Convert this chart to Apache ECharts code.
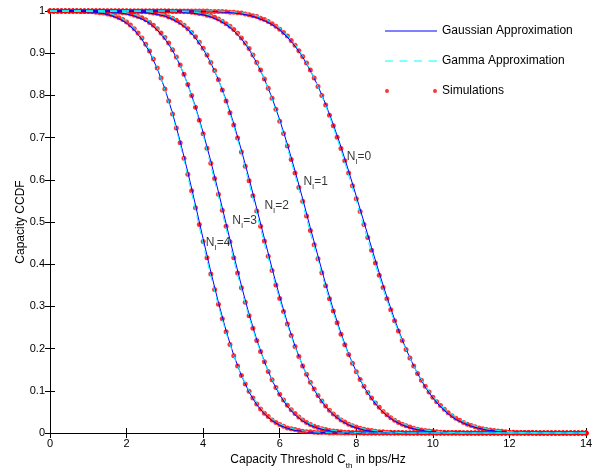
<!DOCTYPE html>
<html>
<head>
<meta charset="utf-8">
<script src="https://cdn.jsdelivr.net/npm/echarts@6/dist/echarts.min.js"></script>
<style>
html, body { margin: 0; padding: 0; background: #fff; }
#container { width: 599px; height: 470px; }
</style>
</head>
<body>
<div id="container"></div>
<script>
// Capacity CCDF for N_I = 0..4 interferers
var FONT = '"Liberation Sans", Helvetica, Arial, sans-serif';

// simulation points, one every 0.1 bps/Hz from 0 to 14
var simStep = 0.1;
var simNI0 = [
  1,1,1,1,1,1,1,1,1,1,
  1,1,1,1,1,1,1,1,1,1,
  1,1,1,1,1,1,1,1,1,1,
  1,1,1,1,1,1,1,1,1,1,
  1,1,.999,.999,.999,.999,.998,.997,.997,.996,
  .995,.993,.991,.989,.987,.983,.980,.975,.970,.964,
  .957,.949,.941,.930,.919,.906,.892,.877,.860,.841,
  .821,.800,.777,.753,.728,.701,.674,.645,.616,.586,
  .555,.525,.494,.463,.433,.403,.374,.345,.318,.292,
  .266,.242,.219,.198,.178,.159,.141,.125,.111,.097,
  .085,.074,.065,.056,.048,.041,.035,.030,.025,.021,
  .018,.015,.012,.010,.008,.007,.006,.005,.004,.003,
  .002,.002,.001,.001,.001,.001,.001,0,0,0,
  0,0,0,0,0,0,0,0,0,0,
  0
];
var simNI1 = [
  1,1,1,1,1,1,1,1,1,1,
  1,1,1,1,1,1,1,1,1,1,
  1,1,1,1,1,1,1,1,1,1,
  1,1,.999,.999,.999,.998,.998,.997,.996,.994,
  .993,.990,.988,.985,.981,.976,.970,.964,.956,.947,
  .936,.924,.911,.896,.878,.860,.839,.817,.793,.767,
  .739,.710,.680,.648,.616,.582,.549,.514,.480,.446,
  .413,.380,.349,.318,.289,.261,.234,.209,.186,.165,
  .145,.127,.111,.096,.083,.071,.061,.051,.043,.036,
  .030,.025,.021,.017,.014,.011,.009,.007,.006,.005,
  .004,.003,.002,.002,.001,.001,.001,.001,0,0,
  0,0,0,0,0,0,0,0,0,0,
  0,0,0,0,0,0,0,0,0,0,
  0,0,0,0,0,0,0,0,0,0,
  0
];
var simNI2 = [
  1,1,1,1,1,1,1,1,1,1,
  1,1,1,1,1,1,1,1,1,1,
  1,.999,.999,.999,.998,.998,.997,.995,.994,.992,
  .990,.986,.983,.978,.973,.966,.958,.949,.939,.926,
  .912,.896,.878,.859,.837,.813,.787,.759,.730,.699,
  .666,.632,.598,.562,.526,.490,.455,.419,.385,.351,
  .319,.288,.258,.231,.205,.181,.159,.139,.120,.104,
  .089,.076,.064,.054,.045,.038,.031,.026,.021,.017,
  .014,.011,.009,.007,.006,.004,.003,.003,.002,.002,
  .001,.001,.001,0,0,0,0,0,0,0,
  0,0,0,0,0,0,0,0,0,0,
  0,0,0,0,0,0,0,0,0,0,
  0,0,0,0,0,0,0,0,0,0,
  0,0,0,0,0,0,0,0,0,0,
  0
];
var simNI3 = [
  1,1,1,1,1,1,1,1,1,1,
  1,1,1,1,.999,.999,.999,.998,.997,.996,
  .995,.993,.990,.987,.984,.979,.973,.966,.958,.948,
  .937,.924,.908,.891,.872,.850,.826,.800,.772,.741,
  .709,.675,.639,.603,.566,.528,.490,.453,.415,.379,
  .344,.310,.278,.248,.219,.193,.169,.146,.126,.108,
  .092,.078,.066,.055,.046,.038,.031,.025,.020,.016,
  .013,.010,.008,.006,.005,.004,.003,.002,.002,.001,
  .001,.001,0,0,0,0,0,0,0,0,
  0,0,0,0,0,0,0,0,0,0,
  0,0,0,0,0,0,0,0,0,0,
  0,0,0,0,0,0,0,0,0,0,
  0,0,0,0,0,0,0,0,0,0,
  0,0,0,0,0,0,0,0,0,0,
  0
];
var simNI4 = [
  1,1,1,1,1,1,1,1,.999,.999,
  .999,.998,.997,.996,.995,.993,.991,.988,.984,.980,
  .974,.967,.958,.948,.936,.921,.905,.886,.865,.841,
  .815,.787,.756,.723,.688,.651,.613,.574,.534,.494,
  .454,.415,.377,.340,.305,.271,.240,.210,.183,.159,
  .136,.116,.099,.083,.069,.057,.047,.039,.031,.025,
  .020,.016,.012,.010,.008,.006,.004,.003,.003,.002,
  .001,.001,.001,0,0,0,0,0,0,0,
  0,0,0,0,0,0,0,0,0,0,
  0,0,0,0,0,0,0,0,0,0,
  0,0,0,0,0,0,0,0,0,0,
  0,0,0,0,0,0,0,0,0,0,
  0,0,0,0,0,0,0,0,0,0,
  0,0,0,0,0,0,0,0,0,0,
  0
];

// analytic approximations, one point every 0.2 bps/Hz
var lineStep = 0.2;
var gaussNI0 = [
  1,1,1,1,1, 1,1,1,1,1, 1,1,1,1,1, 1,1,1,1,1,
  .999,.999,.998,.997,.996, .993,.990,.984,.977,.968,
  .955,.938,.917,.891,.859, .822,.779,.731,.678,.621,
  .561,.500,.439,.379,.322, .269,.221,.178,.141,.109,
  .083,.062,.045,.032,.023, .016,.011,.007,.005,.003,
  .002,.001,.001,0,0, 0,0,0,0,0, 0
];
var gammaNI0 = [
  1,1,1,1,1, 1,1,1,1,1, 1,1,1,1,1, 1,1,1,1,1,
  1,1,1,.999,.998, .996,.993,.989,.982,.973,
  .960,.943,.921,.894,.860, .821,.776,.725,.670,.611,
  .550,.488,.427,.369,.314, .263,.218,.177,.142,.112,
  .087,.067,.051,.038,.028, .020,.014,.010,.007,.005,
  .003,.002,.001,.001,0, 0,0,0,0,0, 0
];
var gaussNI1 = [
  1,1,1,1,1, 1,1,1,1,1, 1,1,1,1,1,
  .999,.999,.998,.996,.994, .991,.986,.978,.968,.953,
  .934,.909,.877,.839,.794, .742,.684,.621,.555,.486,
  .419,.353,.292,.236,.187, .145,.109,.081,.058,.041,
  .028,.019,.012,.008,.005, .003,.002,.001,.001,0,
  0,0,0,0,0, 0,0,0,0,0, 0,0,0,0,0, 0
];
var gammaNI1 = [
  1,1,1,1,1, 1,1,1,1,1, 1,1,1,1,1,
  1,1,.999,.998,.997, .994,.990,.983,.973,.958,
  .939,.913,.880,.839,.791, .737,.676,.611,.543,.474,
  .408,.344,.285,.232,.185, .145,.112,.085,.063,.046,
  .033,.023,.016,.011,.007, .005,.003,.002,.001,0,
  0,0,0,0,0, 0,0,0,0,0, 0,0,0,0,0, 0
];
var gaussNI2 = [
  1,1,1,1,1, 1,1,1,1,1,
  .999,.999,.997,.995,.992, .988,.980,.970,.956,.936,
  .910,.877,.837,.789,.733, .670,.603,.532,.461,.390,
  .323,.261,.206,.159,.119, .087,.062,.043,.029,.019,
  .012,.007,.004,.003,.001, .001,0,0,0,0,
  0,0,0,0,0, 0,0,0,0,0, 0,0,0,0,0, 0,0,0,0,0, 0
];
var gammaNI2 = [
  1,1,1,1,1, 1,1,1,1,1,
  1,1,.999,.998,.995, .992,.985,.975,.961,.941,
  .914,.880,.837,.786,.727, .662,.592,.520,.449,.380,
  .315,.255,.203,.159,.121, .091,.067,.048,.034,.023,
  .016,.010,.007,.004,.003, .002,.001,0,0,0,
  0,0,0,0,0, 0,0,0,0,0, 0,0,0,0,0, 0,0,0,0,0, 0
];
var gaussNI3 = [
  1,1,1,1,1,
  1,.999,.999,.998,.996, .993,.988,.981,.971,.955,
  .934,.907,.871,.826,.773, .712,.644,.571,.496,.421,
  .349,.281,.221,.169,.125, .090,.063,.043,.028,.018,
  .011,.007,.004,.002,.001, .001,0,0,0,0,
  0,0,0,0,0, 0,0,0,0,0, 0,0,0,0,0, 0,0,0,0,0, 0,0,0,0,0, 0
];
var gammaNI3 = [
  1,1,1,1,1,
  1,1,1,.999,.998, .996,.992,.986,.976,.961,
  .939,.910,.872,.825,.770, .706,.634,.560,.484,.410,
  .339,.275,.217,.168,.127, .094,.068,.048,.033,.022,
  .015,.009,.006,.003,.002, .001,0,0,0,0,
  0,0,0,0,0, 0,0,0,0,0, 0,0,0,0,0, 0,0,0,0,0, 0,0,0,0,0, 0
];
var gaussNI4 = [
  1,1,1,1,.999,
  .998,.997,.994,.989,.982, .971,.955,.933,.903,.864,
  .816,.758,.691,.618,.540, .460,.382,.309,.242,.184,
  .136,.097,.067,.045,.029, .018,.011,.006,.004,.002,
  .001,.001,0,0,0, 0,0,0,0,0,
  0,0,0,0,0, 0,0,0,0,0, 0,0,0,0,0, 0,0,0,0,0, 0,0,0,0,0, 0
];
var gammaNI4 = [
  1,1,1,1,1,
  .999,.998,.997,.993,.987, .976,.961,.938,.907,.866,
  .814,.753,.684,.608,.528, .448,.372,.301,.237,.183,
  .137,.100,.072,.050,.034, .022,.014,.009,.005,.003,
  .002,.001,0,0,0, 0,0,0,0,0,
  0,0,0,0,0, 0,0,0,0,0, 0,0,0,0,0, 0,0,0,0,0, 0,0,0,0,0, 0
];

// curve labels N_I = k
var labelText = ['0', '1', '2', '3', '4'];
var labelX = [7.75, 6.62, 5.6, 4.76, 4.07];
var labelY = [0.654, 0.595, 0.538, 0.502, 0.45];

var gaussCurves = [gaussNI0, gaussNI1, gaussNI2, gaussNI3, gaussNI4];
var gammaCurves = [gammaNI0, gammaNI1, gammaNI2, gammaNI3, gammaNI4];
var simCurves = [simNI0, simNI1, simNI2, simNI3, simNI4];

function toPairs(values, step) {
    var pts = [];
    for (var i = 0; i < values.length; i++) {
        pts.push([+(i * step).toFixed(1), values[i]]);
    }
    return pts;
}

var series = [];
//Gaussian
for (var i = 0; i < gaussCurves.length; i++) {
    series.push({
        name: 'Gaussian Approximation', type: 'line', symbol: 'none', clip: false,
        data: toPairs(gaussCurves[i], lineStep),
        itemStyle: {color: '#0000ff'},
        lineStyle: {color: '#0000ff', width: 1}
    });
}
//Gamma
for (var i = 0; i < gammaCurves.length; i++) {
    series.push({
        name: 'Gamma Approximation', type: 'line', symbol: 'none', clip: false,
        data: toPairs(gammaCurves[i], lineStep),
        itemStyle: {color: '#00ffff'},
        lineStyle: {color: '#00ffff', width: 1, type: [7, 5]}
    });
}
//simulations
for (var i = 0; i < simCurves.length; i++) {
    series.push({
        name: 'Simulations', type: 'scatter', symbol: 'circle', symbolSize: 5, clip: false,
        data: toPairs(simCurves[i], simStep),
        itemStyle: {color: '#ff0000'}
    });
}
//N_I labels
var subRich = {
    a: {fontSize: 12, fontFamily: FONT, color: '#000', lineHeight: 18},
    s: {fontSize: 8, fontFamily: FONT, color: '#000', verticalAlign: 'bottom'}
};
series.push({
    type: 'scatter', symbolSize: 0, silent: true, clip: false,
    data: labelX.map(function (x, k) { return {value: [x, labelY[k]], name: labelText[k]}; }),
    label: {
        show: true, position: 'right', distance: 0,
        formatter: function (p) { return '{a|N}{s|I}{a|=' + p.name + '}'; },
        rich: subRich
    }
});

var dash = 'path://M0,0H8V1H0Z M14.5,0H22.5V1H14.5Z M29,0H37V1H29Z M43.5,0H52V1H43.5Z';
var dots = 'path://M0,2A2,2,0,1,1,4,2A2,2,0,1,1,0,2Z M48,2A2,2,0,1,1,52,2A2,2,0,1,1,48,2Z';

var dom = document.getElementById('container');
var myChart = echarts.init(dom);
var option = {
    animation: false,
    textStyle: {fontFamily: FONT},
    grid: {left: 50, right: 13, top: 11, bottom: 37, containLabel: false, outerBoundsMode: 'none'},
    legend: {
        orient: 'vertical', left: 385, top: 25, padding: 0,
        itemWidth: 52, itemHeight: 15, itemGap: 18,
        itemStyle: {borderWidth: 0},
        textStyle: {fontSize: 12, color: '#000', fontFamily: FONT},
        data: [
            {name: 'Gaussian Approximation', icon: 'path://M0,0H52V1H0Z'},
            {name: 'Gamma Approximation', icon: dash},
            {name: 'Simulations', icon: dots}
        ]
    },
    xAxis: [{
        type: 'value', min: 0, max: 14, interval: 2,
        axisLine: {lineStyle: {color: '#000', width: 1}},
        axisTick: {inside: true, length: 5, lineStyle: {color: '#000'}},
        axisLabel: {color: '#000', fontSize: 11, margin: 5, fontFamily: FONT},
        splitLine: {show: false},
        name: '{a|Capacity Threshold C}{s|th}{a| in bps/Hz}',
        nameLocation: 'middle', nameGap: 14,
        nameTextStyle: {rich: {
            a: {fontSize: 12, fontFamily: FONT, color: '#000', lineHeight: 20},
            s: {fontSize: 8, fontFamily: FONT, color: '#000', verticalAlign: 'bottom'}
        }}
    }, {
        type: 'value', min: 0, max: 14, interval: 2, position: 'top',
        axisLine: {lineStyle: {color: '#000', width: 1}},
        axisTick: {inside: true, length: 5, lineStyle: {color: '#000'}},
        axisLabel: {show: false},
        splitLine: {show: false}
    }],
    yAxis: [{
        type: 'value', min: 0, max: 1, interval: 0.1,
        axisLine: {show: true, lineStyle: {color: '#000', width: 1}},
        axisTick: {show: true, inside: true, length: 5, lineStyle: {color: '#000'}},
        axisLabel: {color: '#000', fontSize: 11, margin: 5, fontFamily: FONT},
        splitLine: {show: false},
        name: 'Capacity CCDF', nameLocation: 'middle', nameGap: 23, nameMoveOverlap: false,
        nameTextStyle: {fontSize: 12, color: '#000', fontFamily: FONT}
    }, {
        type: 'value', min: 0, max: 1, interval: 0.1, position: 'right',
        axisLine: {show: true, lineStyle: {color: '#000', width: 1}},
        axisTick: {show: true, inside: true, length: 5, lineStyle: {color: '#000'}},
        axisLabel: {show: false},
        splitLine: {show: false}
    }],
    series: series
};
myChart.setOption(option, true);
</script>
</body>
</html>
